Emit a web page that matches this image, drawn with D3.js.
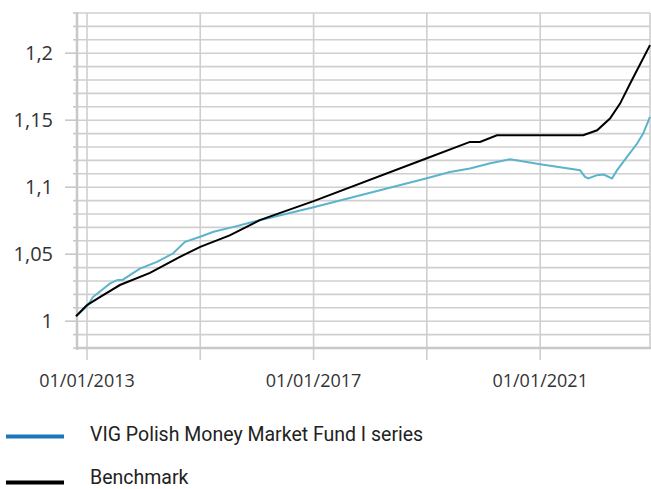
<!DOCTYPE html>
<html>
<head>
<meta charset="utf-8">
<script src="https://cdn.jsdelivr.net/npm/d3@7"></script>
<style>
  html, body { margin: 0; padding: 0; background: #fff; }
  svg { display: block; }
</style>
</head>
<body>
<div id="chart"></div>
<script>
// series
const benchDates = ["2012-10-22","2013-01-01","2013-03-25","2013-08-01","2014-02-11","2014-08-23","2015-01-01","2015-07-10","2016-01-20","2017-01-01","2019-01-01","2019-10-06","2019-12-10","2020-03-28","2021-10-05","2022-01-03","2022-03-27","2022-05-31","2022-08-04","2022-10-08","2022-12-10"];
const benchValues = [1.0037,1.012,1.018,1.027,1.036,1.048,1.0555,1.064,1.0754,1.0896,1.1216,1.1338,1.1338,1.1388,1.1388,1.1425,1.1512,1.1624,1.1774,1.192,1.206];

const fundDates = ["2012-10-22","2013-01-01","2013-02-08","2013-05-28","2013-07-13","2013-08-20","2013-12-08","2014-03-28","2014-07-09","2014-09-25","2015-01-01","2015-03-28","2015-08-05","2016-01-20","2017-01-01","2019-01-01","2019-05-30","2019-10-06","2020-02-14","2020-06-21","2021-01-01","2021-09-15","2021-10-17","2021-11-07","2022-01-03","2022-02-14","2022-04-09","2022-05-12","2022-07-15","2022-09-18","2022-10-27","2022-12-10"];
const fundValues = [1.0037,1.011,1.018,1.028,1.0306,1.031,1.0393,1.0443,1.0505,1.0592,1.063,1.0667,1.0704,1.0754,1.085,1.1067,1.1114,1.114,1.1179,1.1209,1.1172,1.1127,1.1077,1.1065,1.109,1.1094,1.1065,1.1127,1.1226,1.1326,1.14,1.1525];

const yMajor = [1, 1.05, 1.1, 1.15, 1.2];
const xGridYears = [2013, 2015, 2017, 2019, 2021];
const xLabelYears = [2013, 2017, 2021];
const legendNames = ["VIG Polish Money Market Fund I series", "Benchmark"];

const WIDTH = 651, HEIGHT = 489;
const LEFT = 76, RIGHT = 650, TOP = 13, BOTTOM = 348;
const GRID = "#cfcfcf";
const FUND_COLOR = "#5bb4cc", FUND_LEGEND = "#1c76bb";

const parse = d3.timeParse("%Y-%m-%d");
const fmtComma = v => String(+v.toFixed(2)).replace(".", ",");

let svg = d3.select("#chart").append("svg")
  .attr("width", WIDTH)
  .attr("height", HEIGHT);

let x = d3.scaleTime()
  .domain([parse("2012-10-22"), parse("2022-12-10")])
  .range([LEFT, RIGHT]);

let y = d3.scaleLinear()
  .domain([0.98, 1.23])
  .range([BOTTOM, TOP]);

// horizontal grid every 0.01
const minorY = d3.range(98, 124).map(v => v / 100);
svg.append("g")
  .selectAll("line")
  .data(minorY)
  .enter()
  .append("line")
    .attr("x1", LEFT).attr("x2", RIGHT)
    .attr("y1", d => y(d)).attr("y2", d => y(d))
    .attr("stroke", GRID)
    .attr("stroke-width", 1.6);

// vertical grid every 2 years
svg.append("g")
  .selectAll("line")
  .data(xGridYears)
  .enter()
  .append("line")
    .attr("x1", d => x(new Date(d, 0, 1))).attr("x2", d => x(new Date(d, 0, 1)))
    .attr("y1", TOP).attr("y2", BOTTOM + 12)
    .attr("stroke", GRID)
    .attr("stroke-width", 1.6);

// right border
svg.append("line")
  .attr("x1", RIGHT).attr("x2", RIGHT)
  .attr("y1", TOP).attr("y2", BOTTOM)
  .attr("stroke", GRID).attr("stroke-width", 1.6);

// y axis line + ticks
svg.append("line")
  .attr("x1", LEFT + 1).attr("x2", LEFT + 1)
  .attr("y1", TOP - 1).attr("y2", BOTTOM + 2)
  .attr("stroke", "#c8c8c8").attr("stroke-width", 2.5);

svg.append("g")
  .selectAll("line")
  .data(minorY)
  .enter()
  .append("line")
    .attr("x1", d => yMajor.some(m => Math.abs(m - d) < 1e-9) ? 65 : 73)
    .attr("x2", LEFT)
    .attr("y1", d => y(d)).attr("y2", d => y(d))
    .attr("stroke", "#c8c8c8")
    .attr("stroke-width", 1.6);

// x axis line
svg.append("line")
  .attr("x1", LEFT).attr("x2", RIGHT + 1)
  .attr("y1", BOTTOM).attr("y2", BOTTOM)
  .attr("stroke", "#c8c8c8").attr("stroke-width", 2.5);

// y labels
svg.append("g")
  .selectAll("text")
  .data(yMajor)
  .enter()
  .append("text")
    .attr("x", 53)
    .attr("y", d => y(d))
    .attr("dy", "0.35em")
    .attr("text-anchor", "end")
    .attr("font-family", "'Open Sans', sans-serif")
    .attr("font-size", "20px")
    .attr("fill", "#333")
    .text(fmtComma);

// x labels
const fmtDate = d3.timeFormat("%d/%m/%Y");
svg.append("g")
  .selectAll("text")
  .data(xLabelYears)
  .enter()
  .append("text")
    .attr("x", d => x(new Date(d, 0, 1)))
    .attr("y", 387)
    .attr("text-anchor", "middle")
    .attr("font-family", "'Open Sans', sans-serif")
    .attr("font-size", "18px")
    .attr("fill", "#333")
    .text(d => fmtDate(new Date(d, 0, 1)));

// series
let line = d3.line()
  .x(d => x(d[0]))
  .y(d => y(d[1]));

const fund = fundDates.map((d, i) => [parse(d), fundValues[i]]);
const bench = benchDates.map((d, i) => [parse(d), benchValues[i]]);

svg.append("path")
  .datum(fund)
  .attr("d", line)
  .attr("fill", "none")
  .attr("stroke", FUND_COLOR)
  .attr("stroke-width", 2);

svg.append("path")
  .datum(bench)
  .attr("d", line)
  .attr("fill", "none")
  .attr("stroke", "#000")
  .attr("stroke-width", 2);

// legend
const legendColors = [FUND_LEGEND, "#000"];
const legendLineY = [436.5, 482.5];
const legendTextY = [440.5, 484];
let legend = svg.append("g")
  .selectAll("g")
  .data(legendNames)
  .enter()
  .append("g");

legend.append("line")
  .attr("x1", 6).attr("x2", 64)
  .attr("y1", (d, i) => legendLineY[i]).attr("y2", (d, i) => legendLineY[i])
  .attr("stroke", (d, i) => legendColors[i])
  .attr("stroke-width", 4);

legend.append("text")
  .attr("x", 90)
  .attr("y", (d, i) => legendTextY[i])
  .attr("font-family", "'Roboto', sans-serif")
  .attr("font-size", "19.5px")
  .attr("fill", "#222")
  .text(d => d);
</script>
</body>
</html>
